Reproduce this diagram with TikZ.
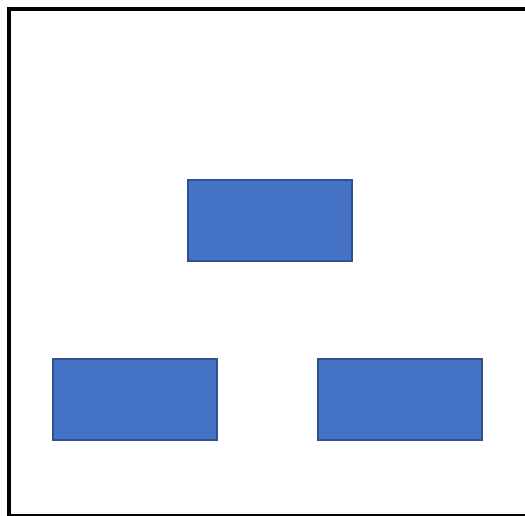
\documentclass[tikz,border=0pt]{standalone}
\definecolor{boxfill}{HTML}{4472C4}
\definecolor{boxline}{HTML}{2F528F}
\tikzset{
  blockbox/.style={draw=boxline, fill=boxfill, line width=2pt, minimum width=164pt, minimum height=81pt, inner sep=0pt, anchor=north west},
}
\begin{document}
\begin{tikzpicture}[x=1pt,y=-1pt]
\useasboundingbox (0,0) rectangle (525,515);
\clip (0,0) rectangle (525,515);
\fill[white] (0,0) rectangle (525,515);
\draw[line width=3.5pt] (9,9) rectangle (545,516);
\node[blockbox] (top) at (187,179) {};
\node[blockbox] (left) at (52,358) {};
\node[blockbox] (right) at (317,358) {};
\end{tikzpicture}
\end{document}
